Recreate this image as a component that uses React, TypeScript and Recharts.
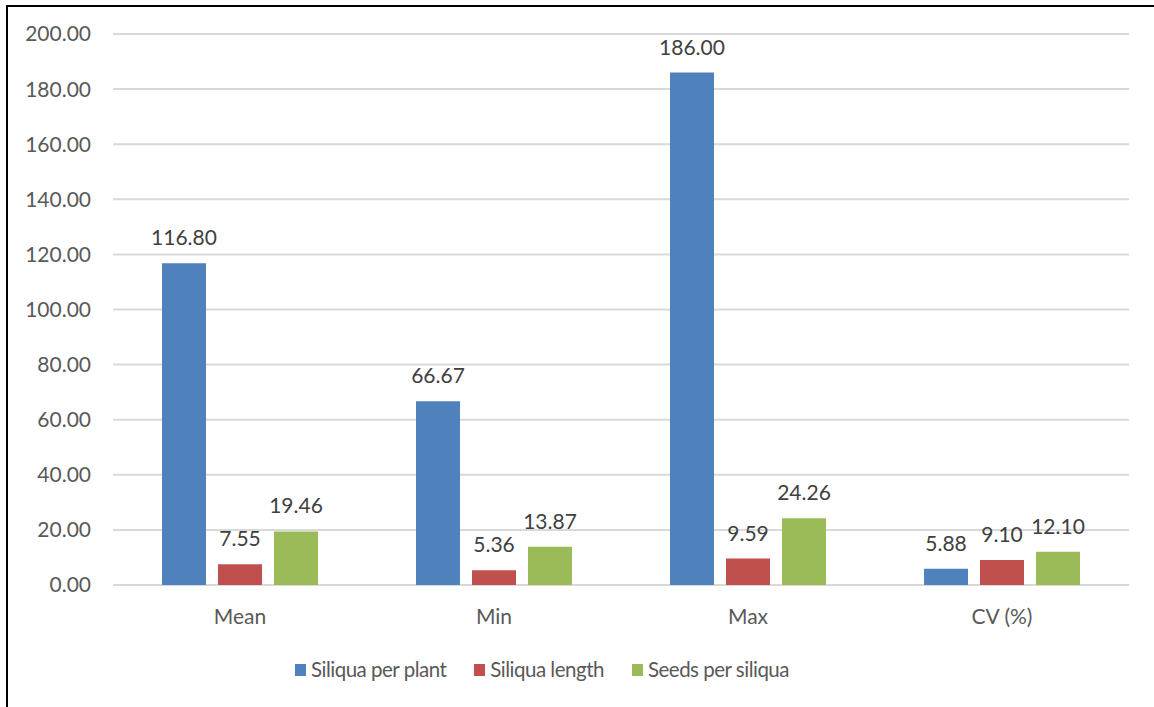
import React from 'react';
import {
  BarChart,
  Bar,
  XAxis,
  YAxis,
  CartesianGrid,
  Legend,
  LabelList,
} from 'recharts';

// Summary statistics for the three siliqua traits
const categories = ['Mean', 'Min', 'Max', 'CV (%)'];
const siliquaPerPlant = [116.8, 66.67, 186.0, 5.88];
const siliquaLength = [7.55, 5.36, 9.59, 9.1];
const seedsPerSiliqua = [19.46, 13.87, 24.26, 12.1];
const yTicks = [0, 20, 40, 60, 80, 100, 120, 140, 160, 180, 200];

const seriesNames = ['Siliqua per plant', 'Siliqua length', 'Seeds per siliqua'];
const seriesColors = ['#4F81BD', '#C0504D', '#9BBB59'];

const data = categories.map((c, i) => ({
  name: c,
  a: siliquaPerPlant[i],
  b: siliquaLength[i],
  c: seedsPerSiliqua[i],
}));

const FONT = 'Lato, "Open Sans", sans-serif';
const fmt = (v: number) => Number(v).toFixed(2);

const LegendContent = () => (
  <div
    style={{
      display: 'flex',
      alignItems: 'center',
      fontFamily: FONT,
      fontSize: 20.5,
      letterSpacing: -0.5,
      lineHeight: '25px',
      height: 25,
      color: '#595959',
      whiteSpace: 'nowrap',
    }}
  >
    {seriesNames.map((n, i) => (
      <div
        key={n}
        style={{ display: 'flex', alignItems: 'center', marginRight: i < 2 ? 28 : 0 }}
      >
        <span
          style={{
            display: 'inline-block',
            width: 11,
            height: 12,
            background: seriesColors[i],
            marginRight: 5,
          }}
        />
        <span>{n}</span>
      </div>
    ))}
  </div>
);

export default function App() {
  const keys = ['a', 'b', 'c'];
  return (
    <div
      style={{
        position: 'absolute',
        left: 0,
        top: 0,
        width: 1154,
        height: 707,
        background: '#fff',
        overflow: 'hidden',
      }}
    >
      <div
        style={{
          position: 'absolute',
          left: 6,
          top: 5,
          width: 1200,
          height: 760,
          borderLeft: '2px solid #000',
          borderTop: '2px solid #000',
          boxSizing: 'border-box',
        }}
      />
      <BarChart
        width={1154}
        height={707}
        data={data}
        margin={{ top: 34, right: 25, left: 0, bottom: 47 }}
        barSize={44}
        barGap={12}
        style={{ position: 'absolute', left: 0, top: 0 }}
      >
        <CartesianGrid vertical={false} stroke="#d9d9d9" strokeWidth={2} />
        <XAxis
          dataKey="name"
          axisLine={false}
          tickLine={false}
          height={50}
          tickMargin={18}
          tick={{ fill: '#595959', fontSize: 21, fontFamily: FONT }}
        />
        <YAxis
          width={113}
          domain={[0, 200]}
          ticks={yTicks}
          tickFormatter={fmt}
          axisLine={false}
          tickLine={false}
          tickMargin={16}
          interval={0}
          tick={{ fill: '#595959', fontSize: 21, fontFamily: FONT }}
        />
        <Legend
          verticalAlign="bottom"
          content={<LegendContent />}
          wrapperStyle={{ left: 295, top: 657, width: 'auto', bottom: 'auto' }}
        />
        {keys.map((k, i) => (
          <Bar
            key={k}
            dataKey={k}
            name={seriesNames[i]}
            fill={seriesColors[i]}
            isAnimationActive={false}
          >
            <LabelList
              dataKey={k}
              position="top"
              offset={18}
              formatter={fmt}
              style={{ fill: '#404040', fontSize: 21, fontFamily: FONT }}
            />
          </Bar>
        ))}
      </BarChart>
    </div>
  );
}
